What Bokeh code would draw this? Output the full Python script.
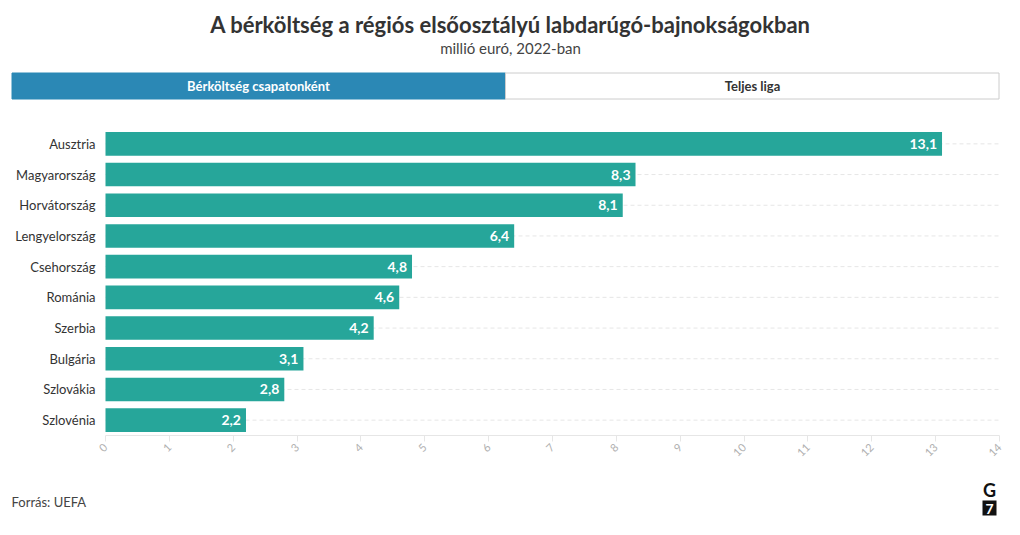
from bokeh.plotting import figure
from bokeh.models import Range1d, FactorRange, FixedTicker, ColumnDataSource, LinearAxis
from bokeh.layouts import column
from bokeh.core.properties import value
from bokeh.embed import file_html
from bokeh.resources import INLINE

countries = ["Ausztria", "Magyarország", "Horvátország", "Lengyelország", "Csehország",
             "Románia", "Szerbia", "Bulgária", "Szlovákia", "Szlovénia"]
wages = [13.1, 8.3, 8.1, 6.4, 4.8, 4.6, 4.2, 3.1, 2.8, 2.2]
x_ticks = list(range(0, 15))

title = "A bérköltség a régiós elsőosztályú labdarúgó-bajnokságokban"
subtitle = "millió euró, 2022-ban"
buttons = ["Bérköltség csapatonként", "Teljes liga"]
source_text = "Forrás: UEFA"

FONT = "Lato"
W = 1020


def bare(fig):
    fig.axis.visible = False
    fig.grid.visible = False
    fig.outline_line_color = None
    fig.min_border = 0
    return fig


# ---------- header ----------
h = bare(figure(width=W, height=105, x_range=Range1d(0, W), y_range=Range1d(105, 0),
                toolbar_location=None, output_backend="svg", min_border=0))
h.text(x=[W / 2], y=[24], text=[title], text_font=value(FONT), text_font_style="bold",
       text_font_size="22px", text_color="#333333", text_align="center", text_baseline="middle")
h.text(x=[W / 2], y=[47], text=[subtitle], text_font=value(FONT),
       text_font_size="15px", text_color="#444444", text_align="center", text_baseline="middle")
h.quad(left=[11.5, 505], right=[505, 998.5], top=[72.5, 72.5], bottom=[98.5, 98.5],
       fill_color=["#2b88b5", "#ffffff"], line_color=["#2b88b5", "#cccccc"], line_width=1)
h.text(x=[258, 752], y=[85.5, 85.5], text=buttons, text_font=value(FONT), text_font_style="bold",
       text_font_size="13px", text_color=["#ffffff", "#333333"], text_align="center",
       text_baseline="middle")

# ---------- main chart ----------
X0_PX, X1_PX = 105, 999
x_max = x_ticks[-1]
px_per = (X1_PX - X0_PX) / x_max
xr = Range1d(-X0_PX / px_per, x_max + (W - X1_PX) / px_per)

src = ColumnDataSource(dict(country=countries, wage=wages,
                            zero=[0] * len(countries), xmax=[x_max] * len(countries),
                            lbl=[f"{v:.1f}".replace(".", ",") for v in wages]))
p = figure(width=W, height=365, y_range=FactorRange(*countries[::-1]), x_range=xr,
           toolbar_location=None, output_backend="svg", x_axis_location=None, y_axis_location=None,
           min_border_left=0, min_border_right=0, min_border_top=23, min_border_bottom=35)
p.outline_line_color = None
p.grid.visible = False

p.segment(x0="zero", x1="xmax", y0="country", y1="country", source=src,
          line_color="#e6e6e6", line_dash="4 3", line_width=1)
p.hbar(y="country", right="wage", left=0, height=0.77, source=src,
       fill_color="#26a69a", line_color=None)
p.text(x="wage", y="country", text="lbl", source=src, x_offset=-5,
       text_font=value(FONT), text_font_style="bold", text_font_size="14px",
       text_color="#ffffff", text_align="right", text_baseline="middle")
p.text(x="zero", y="country", text="country", source=src, x_offset=-10,
       text_font=value(FONT), text_font_size="13px",
       text_color="#333333", text_align="right", text_baseline="middle")

ax = LinearAxis(ticker=FixedTicker(ticks=x_ticks), bounds=(0, x_max))
ax.axis_line_color = "#e6e6e6"
ax.major_tick_line_color = "#e6e6e6"
ax.major_tick_out = 6
ax.major_tick_in = 0
ax.minor_tick_line_color = None
ax.major_label_orientation = 0.785
ax.major_label_text_color = "#b0b0b0"
ax.major_label_text_font = FONT
ax.major_label_text_font_size = "11px"
ax.major_label_standoff = 4
p.add_layout(ax, "below")

# ---------- footer ----------
f = bare(figure(width=W, height=65, x_range=Range1d(0, W), y_range=Range1d(65, 0),
                toolbar_location=None, output_backend="svg", min_border=0))
f.text(x=[11], y=[31], text=[source_text], text_font=value(FONT), text_font_size="13px",
       text_color="#444444", text_align="left", text_baseline="middle")
f.text(x=[989], y=[19], text=["G"], text_font=value(FONT), text_font_style="bold",
       text_font_size="18px", text_color="#111111", text_align="center", text_baseline="middle")
f.quad(left=[982], right=[996], top=[30], bottom=[45], fill_color="#111111", line_color=None)
f.text(x=[989], y=[38], text=["7"], text_font=value(FONT), text_font_style="bold",
       text_font_size="14px", text_color="#ffffff", text_align="center", text_baseline="middle")

layout = column(h, p, f, spacing=0)
open("out.html", "w").write(file_html(layout, INLINE))
